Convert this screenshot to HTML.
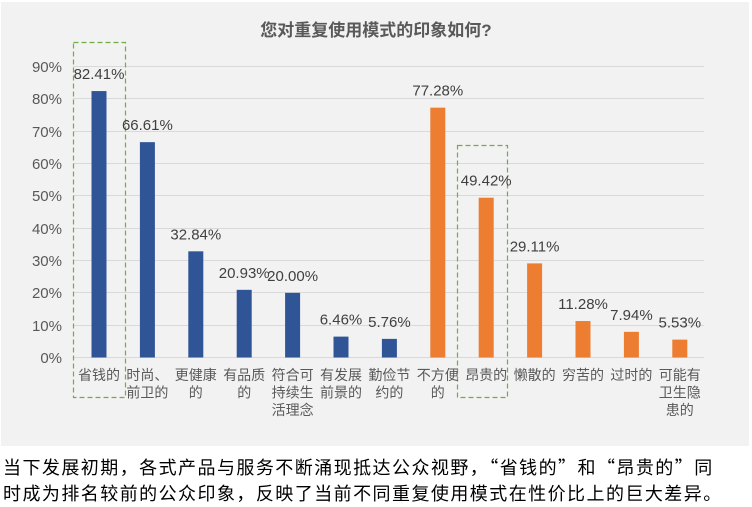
<!DOCTYPE html>
<html><head><meta charset="utf-8"><style>
body{margin:0;background:#fff;width:752px;height:507px;overflow:hidden;font-family:"Liberation Sans","Noto Sans CJK SC",sans-serif;}
.cap{position:absolute;left:3px;top:454px;font-size:18px;letter-spacing:1.45px;line-height:26px;color:#000;width:752px;white-space:nowrap;font-family:"Noto Sans CJK SC",sans-serif;}
</style></head><body>
<svg width="752" height="507" style="position:absolute;left:0;top:0" font-family="Liberation Sans, Noto Sans CJK SC, sans-serif">
<rect x="1" y="2" width="748" height="444" fill="#f2f2f2"/>
<text x="376" y="36" text-anchor="middle" font-size="17" font-weight="bold" fill="#595959">您对重复使用模式的印象如何?</text>
<g stroke="#d9d9d9" stroke-width="1">
<line x1="73" x2="704" y1="66.5" y2="66.5"/><line x1="73" x2="704" y1="98.5" y2="98.5"/><line x1="73" x2="704" y1="131.5" y2="131.5"/><line x1="73" x2="704" y1="163.5" y2="163.5"/><line x1="73" x2="704" y1="195.5" y2="195.5"/><line x1="73" x2="704" y1="228.5" y2="228.5"/><line x1="73" x2="704" y1="260.5" y2="260.5"/><line x1="73" x2="704" y1="292.5" y2="292.5"/><line x1="73" x2="704" y1="325.5" y2="325.5"/><line x1="73" x2="704" y1="357.5" y2="357.5"/>
</g>
<g font-size="15" fill="#595959" text-anchor="end">
<text x="62" y="72">90%</text><text x="62" y="104">80%</text><text x="62" y="137">70%</text><text x="62" y="169">60%</text><text x="62" y="201">50%</text><text x="62" y="234">40%</text><text x="62" y="266">30%</text><text x="62" y="298">20%</text><text x="62" y="331">10%</text><text x="62" y="363">0%</text>
</g>
<g id="bars"></g>
<g fill="none" stroke="#70ad47" stroke-width="1.2" stroke-dasharray="5,3">
<rect x="73.5" y="42.5" width="52" height="355"/>
<rect x="457.5" y="145.5" width="50" height="252"/>
</g>
<g font-size="15" fill="#404040" text-anchor="middle" id="vals"></g>
<g font-size="14" fill="#595959" text-anchor="middle" id="cats"></g>
</svg>
<div class="cap">当下发展初期，各式产品与服务不断涌现抵达公众视野，“省钱的”和“昂贵的”同<br>时成为排名较前的公众印象，反映了当前不同重复使用模式在性价比上的巨大差异。</div>
<script>
var v=[82.41,66.61,32.84,20.93,20.00,6.46,5.76,77.28,49.42,29.11,11.28,7.94,5.53];
var c=[["省钱的"],["时尚、","前卫的"],["更健康","的"],["有品质","的"],["符合可","持续生","活理念"],["有发展","前景的"],["勤俭节","约的"],["不方便","的"],["昂贵的"],["懒散的"],["穷苦的"],["过时的"],["可能有","卫生隐","患的"]];
var ns="http://www.w3.org/2000/svg",b=document.getElementById("bars"),vl=document.getElementById("vals"),ct=document.getElementById("cats");
for(var i=0;i<13;i++){var cx=99+i*48.4,h=v[i]*3.233,y=357.5-h;
var r=document.createElementNS(ns,"rect");r.setAttribute("x",cx-7.5);r.setAttribute("y",y);r.setAttribute("width",15);r.setAttribute("height",h);r.setAttribute("fill",i<7?"#2f5597":"#ed7d31");b.appendChild(r);
var t=document.createElementNS(ns,"text");t.setAttribute("x",cx);t.setAttribute("y",y-12);t.textContent=v[i].toFixed(2)+"%";vl.appendChild(t);
for(var j=0;j<c[i].length;j++){var u=document.createElementNS(ns,"text");u.setAttribute("x",cx);u.setAttribute("y",380+j*17.5);u.textContent=c[i][j];ct.appendChild(u);}}
</script>
</body></html>
